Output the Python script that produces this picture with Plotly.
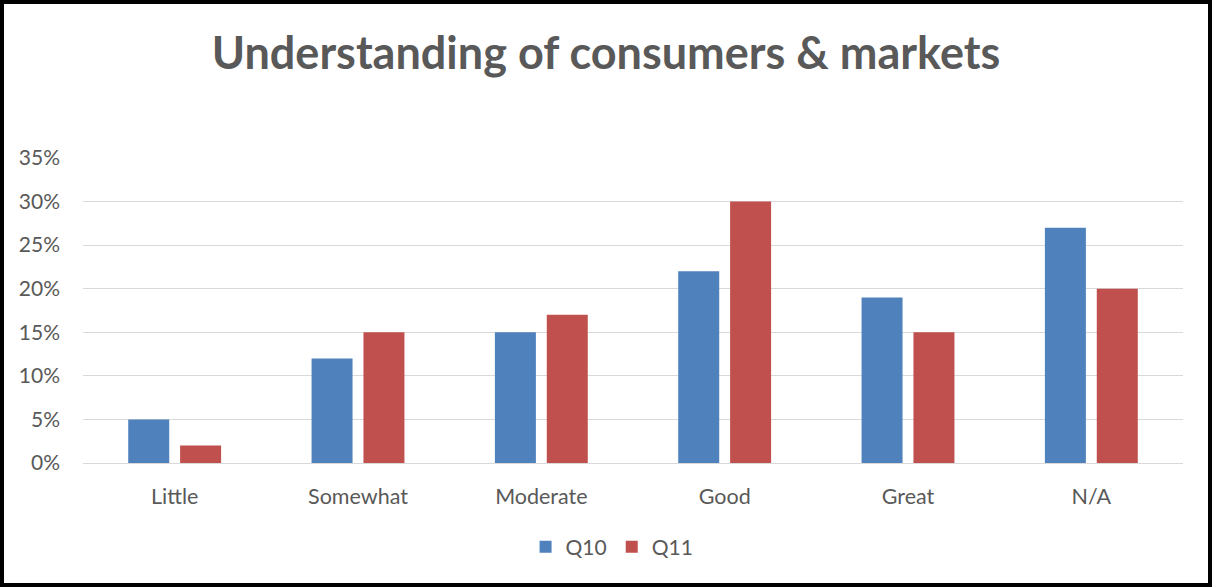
import plotly.graph_objects as go

# Survey responses: share of respondents per rating level
categories = ["Little", "Somewhat", "Moderate", "Good", "Great", "N/A"]
q10_values = [0.05, 0.12, 0.15, 0.22, 0.19, 0.27]
q11_values = [0.02, 0.15, 0.17, 0.30, 0.15, 0.20]
y_ticks = [0, 0.05, 0.10, 0.15, 0.20, 0.25, 0.30, 0.35]

W, H = 1212, 587
ML, MR, MT, MB = 83, 29, 158, 124
PW, PH = W - ML - MR, H - MT - MB

FONT = "Lato, Carlito, Calibri, sans-serif"
TEXT = "#595959"

fig = go.Figure()
fig.add_trace(go.Bar(name="Q10", x=categories, y=q10_values, marker_color="#4F81BD",
                     marker_line_width=0))
fig.add_trace(go.Bar(name="Q11", x=categories, y=q11_values, marker_color="#C0504D",
                     marker_line_width=0))


def px_x(p):
    return (p - ML) / PW


def px_y(p):
    return 1 - (p - MT) / PH


fig.update_layout(
    width=W, height=H,
    margin=dict(l=ML, r=MR, t=MT, b=MB),
    paper_bgcolor="white", plot_bgcolor="white",
    barmode="group", bargap=0.434, bargroupgap=0.21,
    title=dict(text="<b>Understanding of consumers & markets</b>",
               x=0.5, xanchor="center", xref="container",
               y=1 - 53 / H, yanchor="middle", yref="container",
               font=dict(family=FONT, size=45, color=TEXT)),
    font=dict(family=FONT, color=TEXT),
    xaxis=dict(showgrid=False, showline=True, linecolor="#D9D9D9", linewidth=1,
               tickfont=dict(size=21.5, color=TEXT), ticklabelstandoff=14, zeroline=False),
    yaxis=dict(range=[0, 0.35], tickvals=y_ticks, tickformat=".0%",
               showgrid=True, gridcolor="#D9D9D9", gridwidth=1, zeroline=False,
               tickfont=dict(size=21, color=TEXT), ticklabelstandoff=22, showline=False),
    legend=dict(orientation="h", x=0.505, xanchor="center", xref="container",
                y=1 - 547 / H, yanchor="middle", yref="container",
                font=dict(size=21, color=TEXT), itemwidth=30, traceorder="normal"),
    shapes=[
        dict(type="rect", xref="paper", yref="paper",
             x0=px_x(2), x1=px_x(W - 2), y0=px_y(H - 2), y1=px_y(2),
             line=dict(color="#000000", width=4), fillcolor="rgba(0,0,0,0)", layer="above"),
    ],
)

fig.write_html("out.html")
